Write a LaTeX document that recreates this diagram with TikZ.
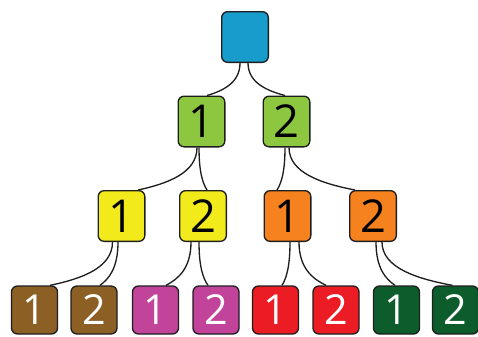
\documentclass[tikz,border=0pt]{standalone}
\usepackage{fontspec}
\setmainfont{Open Sans}
\usetikzlibrary{calc}
\definecolor{cblue}{HTML}{179CCB}
\definecolor{cgreen}{HTML}{8DC63F}
\definecolor{cyellow}{HTML}{F2EA1B}
\definecolor{corange}{HTML}{F5821F}
\definecolor{cbrown}{HTML}{8C5F24}
\definecolor{cmag}{HTML}{C1439A}
\definecolor{cred}{HTML}{EC1C24}
\definecolor{cdgreen}{HTML}{0D5C2C}
\definecolor{cline}{HTML}{1E1E1E}
\tikzset{
  tbox/.style={draw=cline, line width=1pt, rounded corners=4.5pt, rectangle,
    minimum width=35pt, minimum height=38pt, inner sep=0pt,
    font=\fontsize{34}{34}\selectfont},
  dk/.style={tbox, text=black},
  lt/.style={tbox, text=white, minimum width=34.5pt, minimum height=36pt,
    font=\fontsize{31}{31}\selectfont},
  conn/.style={draw=cline, line width=1pt}
}
\newcommand\tconn[4]{\draw[conn] let \p1=($(#1.south)+(#2,0)$), \p2=($(#3.north)+(#4,0)$) in
  (\p1) .. controls (\x1,{\y1+0.6*(\y2-\y1)}) and ({\x2+0.5*(\x1-\x2)},{\y2+0.15*(\y1-\y2)}) .. (\p2);}
\begin{document}
\begin{tikzpicture}[x=0.75pt,y=-0.75pt]
\useasboundingbox (0,0) rectangle (478,336);
\node[dk, fill=cblue] (root) at (245,37) {};
\node[dk, fill=cgreen] (g1) at (201.5,121.5) {1};
\node[dk, fill=cgreen] (g2) at (286.5,121.5) {2};
\node[dk, fill=cyellow] (y1) at (121.5,216) {1};
\node[dk, fill=cyellow] (y2) at (203,216) {2};
\node[dk, fill=corange] (o1) at (287.5,216) {1};
\node[dk, fill=corange] (o2) at (373,216) {2};
\node[lt, fill=cbrown] (b1) at (34.5,310) {1};
\node[lt, fill=cbrown] (b2) at (94,310) {2};
\node[lt, fill=cmag] (m1) at (155.5,310) {1};
\node[lt, fill=cmag] (m2) at (216,310) {2};
\node[lt, fill=cred] (r1) at (275.5,310) {1};
\node[lt, fill=cred] (r2) at (336,310) {2};
\node[lt, fill=cdgreen] (d1) at (396.5,310) {1};
\node[lt, fill=cdgreen] (d2) at (455.5,310) {2};
\tconn{root}{-5}{g1}{5.5}
\tconn{root}{3}{g2}{-1.5}
\tconn{g1}{-4.5}{y1}{16.5}
\tconn{g1}{-2.5}{y2}{4}
\tconn{g2}{-1.5}{o1}{-10.5}
\tconn{g2}{2.5}{o2}{-18}
\tconn{y1}{-9}{b1}{15.5}
\tconn{y1}{-3.5}{b2}{6}
\tconn{y2}{-12}{m1}{10.5}
\tconn{y2}{-4}{m2}{-8}
\tconn{o1}{2.5}{r1}{6.5}
\tconn{o1}{11.5}{r2}{-10}
\tconn{o2}{3}{d1}{-1.5}
\tconn{o2}{9}{d2}{-3}
\end{tikzpicture}
\end{document}
